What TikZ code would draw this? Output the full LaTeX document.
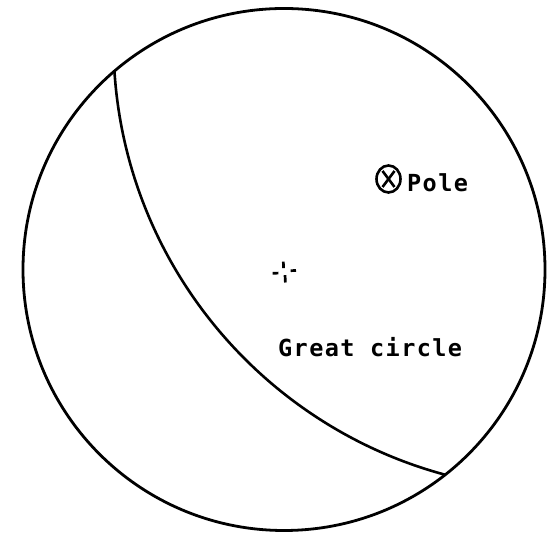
\documentclass[tikz,border=0pt]{standalone}
\usepackage{fontspec}
\usetikzlibrary{calc}
\newfontfamily\typ[LetterSpace=6]{DejaVu Sans Mono}
\begin{document}
\begin{tikzpicture}[x=1pt,y=1pt,
  rim/.style={line width=2.8pt},
  gc/.style={line width=2.6pt},
  tick/.style={line width=2.7pt},
  polesym/.style={line width=2.6pt},
  lbl/.style={inner sep=0pt,anchor=base west,font=\typ\bfseries\fontsize{23.5}{26}\selectfont}]
\useasboundingbox (0,0) rectangle (548,534);
\coordinate (O) at (284,264.5);
\coordinate (G) at (561.5,492);
% great circle, clipped to the net
\begin{scope}
  \clip (O) circle (261pt);
  \draw[gc] (G) circle (448pt);
\end{scope}
% primitive circle
\draw[rim] (O) circle (261pt);
% centre mark
\draw[tick] (283.3,272.3) -- (283.6,265.9);
\draw[tick] (285,258.8) -- (285.4,251.5);
\draw[tick] (272.7,260.7) -- (278.3,260.9);
\draw[tick] (290.7,263.3) -- (296,263.5);
% pole symbol
\coordinate (P) at (388.5,355);
\draw[polesym] (P) ellipse (12pt and 13.5pt);
\draw[polesym] ($(P)+(-6,8)$) -- ($(P)+(6,-8)$);
\draw[polesym] ($(P)+(-6,-8)$) -- ($(P)+(6,8)$);
\node[lbl] (pole) at (407,342) {Pole};
\node[lbl] (gclbl) at (278,177) {Great circle};
\end{tikzpicture}
\end{document}
